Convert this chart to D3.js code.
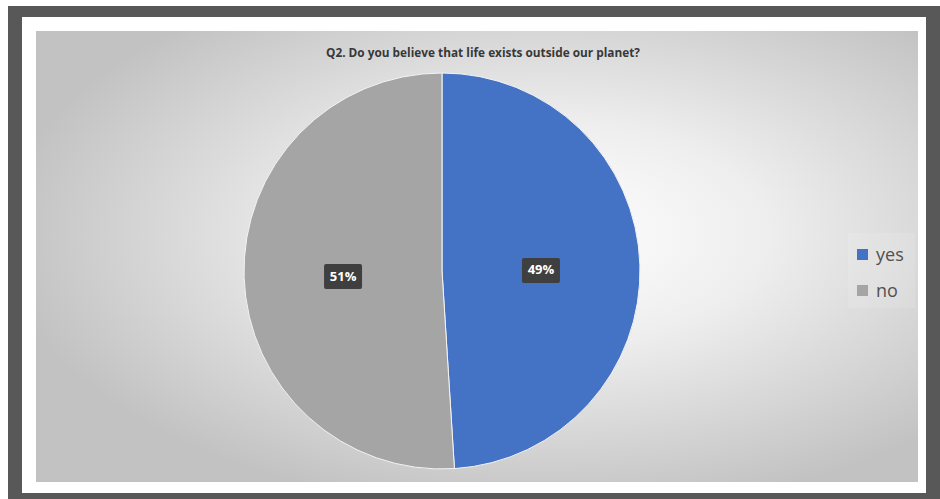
<!DOCTYPE html>
<html>
<head>
<meta charset="utf-8">
<script src="https://cdn.jsdelivr.net/npm/d3@7"></script>
<style>
  body { margin: 0; background: #fff; }
  svg { display: block; }
</style>
</head>
<body>
<div id="chart"></div>
<script>
// Q2 survey pie
var width = 940,
    height = 499;

var title = "Q2. Do you believe that life exists outside our planet?";
var categories = ["yes", "no"];
var values = [49, 51];
var colors = ["#4472C4", "#A5A5A5"];

var svg = d3.select("#chart").append("svg")
    .attr("width", width)
    .attr("height", height);

// background gradient (Excel style radial)
var defs = svg.append("defs");
var grad = defs.append("radialGradient")
    .attr("id", "bg")
    .attr("cx", "0.58").attr("cy", "0.45")
    .attr("r", "0.62");
grad.append("stop").attr("offset", "0%").attr("stop-color", "#ffffff");
grad.append("stop").attr("offset", "40%").attr("stop-color", "#eeeeee");
grad.append("stop").attr("offset", "100%").attr("stop-color", "#c2c2c2");

// frame: dark border, white mat, gradient chart area
svg.append("rect").attr("x", 8).attr("y", 6).attr("width", 932).attr("height", 493).attr("fill", "#585858");
svg.append("rect").attr("x", 22).attr("y", 17).attr("width", 904).attr("height", 476).attr("fill", "#ffffff");
svg.append("rect").attr("x", 36).attr("y", 31).attr("width", 882).attr("height", 451).attr("fill", "url(#bg)");

// title
svg.append("text")
    .attr("x", 483)
    .attr("y", 57)
    .attr("text-anchor", "middle")
    .style("font", "bold 13px 'Open Sans', 'Liberation Sans', Arial, sans-serif")
    .style("fill", "#383838")
    .attr("textLength", 314)
    .attr("lengthAdjust", "spacingAndGlyphs")
    .text(title);

// pie
var cx = 442, cy = 271, radius = 198;
var pie = d3.pie().sort(null).value(function(d) { return d; });
var arc = d3.arc().innerRadius(0).outerRadius(radius);
var arcs = pie(values);

var g = svg.append("g").attr("transform", "translate(" + cx + "," + cy + ")");

g.selectAll("path.slice")
    .data(arcs)
    .enter().append("path")
    .attr("class", "slice")
    .attr("d", arc)
    .attr("fill", function(d, i) { return colors[i]; })
    .attr("stroke", "#f4f4f4")
    .attr("stroke-width", 1);

// data labels in dark boxes
var lab = g.selectAll("g.lab")
    .data(arcs)
    .enter().append("g")
    .attr("class", "lab")
    .attr("transform", function(d) {
        var c = arc.centroid(d);
        return "translate(" + c[0] + "," + (c[1] + 2) + ")";
    });
lab.append("rect")
    .attr("x", -19).attr("y", -12)
    .attr("width", 38).attr("height", 25)
    .attr("rx", 2)
    .attr("fill", "#3f3f3f");
lab.append("text")
    .attr("text-anchor", "middle")
    .attr("dy", "0.35em")
    .style("font", "bold 13px 'Open Sans', 'Liberation Sans', Arial, sans-serif")
    .style("fill", "#ffffff")
    .text(function(d) { return d.data + "%"; });

// legend
var legend = svg.append("g").attr("transform", "translate(857,249)");
legend.append("rect")
    .attr("x", -9).attr("y", -16)
    .attr("width", 67).attr("height", 75)
    .attr("fill", "#ffffff").attr("opacity", 0.12);
var item = legend.selectAll("g.item")
    .data(categories)
    .enter().append("g")
    .attr("class", "item")
    .attr("transform", function(d, i) { return "translate(0," + (i * 36) + ")"; });
item.append("rect")
    .attr("width", 11).attr("height", 11)
    .attr("fill", function(d, i) { return colors[i]; });
item.append("text")
    .attr("x", 19)
    .attr("y", 6)
    .attr("dy", "0.35em")
    .style("font", "18px 'Open Sans', 'Liberation Sans', Arial, sans-serif")
    .style("fill", "#505050")
    .text(function(d) { return d; });
</script>
</body>
</html>
